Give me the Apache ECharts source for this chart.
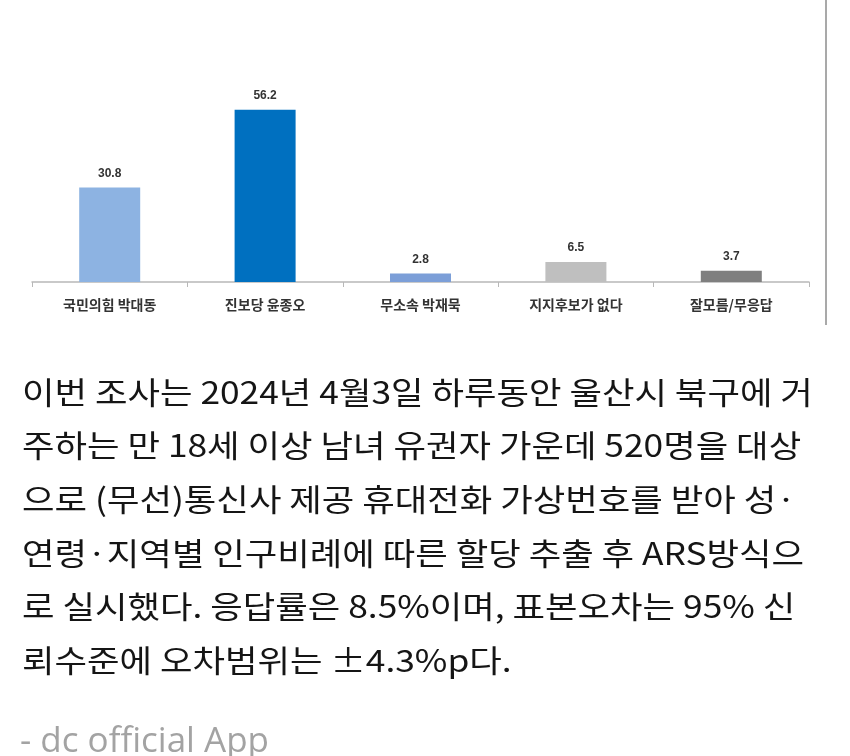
<!DOCTYPE html>
<html>
<head>
<meta charset="utf-8">
<script src="https://cdn.jsdelivr.net/npm/echarts@6/dist/echarts.min.js"></script>
<style>
  html, body { margin: 0; padding: 0; background: #fff; }
  #chart { width: 850px; height: 756px; }
</style>
</head>
<body>
<div id="chart"></div>
<script>
var categories = ['국민의힘 박대동', '진보당 윤종오', '무소속 박재묵', '지지후보가 없다', '잘모름/무응답'];
var values = [30.8, 56.2, 2.8, 6.5, 3.7];
var barColors = ['#8db3e2', '#0070c0', '#7c9fd8', '#bfbfbf', '#7f7f7f'];

var noteLines = [
    '이번 조사는 2024년 4월3일 하루동안 울산시 북구에 거',
    '주하는 만 18세 이상 남녀 유권자 가운데 520명을 대상',
    '으로 (무선)통신사 제공 휴대전화 가상번호를 받아 성·',
    '연령·지역별 인구비례에 따른 할당 추출 후 ARS방식으',
    '로 실시했다. 응답률은 8.5%이며, 표본오차는 95% 신',
    '뢰수준에 오차범위는 ±4.3%p다.'
];
var footer = '- dc official App';

var chart = echarts.init(document.getElementById('chart'));

var graphics = [{
    type: 'line',
    shape: { x1: 826, y1: 0, x2: 826, y2: 325 },
    style: { stroke: '#8c8c8c', lineWidth: 1.5 }
}];

// the app font is wider than Noto, so stretch each line a little
noteLines.forEach(function (line, i) {
    graphics.push({
        type: 'text',
        x: 22,
        y: 392 + i * 53.6,
        scaleX: 1.14,
        style: {
            text: line,
            fill: '#151515',
            font: '31px "Noto Sans CJK KR", sans-serif',
            verticalAlign: 'middle'
        }
    });
});

graphics.push({
    type: 'text',
    x: 20,
    y: 760,
    style: {
        text: footer,
        fill: '#a3a3a3',
        font: '35px "Open Sans", sans-serif',
        verticalAlign: 'bottom'
    }
});

chart.setOption({
    animation: false,
    backgroundColor: '#ffffff',
    grid: {
        left: 32,
        right: 41,
        top: 98,
        bottom: 474
    },
    xAxis: {
        type: 'category',
        data: categories,
        axisLine: {
            show: true,
            lineStyle: { color: '#b8b8b8', width: 1.5 }
        },
        axisTick: {
            show: true,
            length: 5,
            lineStyle: { color: '#b8b8b8' }
        },
        axisLabel: {
            margin: 16,
            color: '#333333',
            fontSize: 14,
            fontWeight: 'bold',
            fontFamily: '"Noto Sans CJK KR", sans-serif'
        }
    },
    yAxis: {
        type: 'value',
        min: 0,
        max: 60,
        show: false,
        splitLine: { show: false }
    },
    series: [{
        type: 'bar',
        barWidth: 61,
        data: values.map(function (v, i) {
            return { value: v, itemStyle: { color: barColors[i] } };
        }),
        label: {
            show: true,
            position: 'top',
            distance: 8,
            color: '#333333',
            fontSize: 12,
            fontWeight: 'bold',
            fontFamily: '"Liberation Sans Narrow", "Liberation Sans", sans-serif'
        }
    }],
    graphic: graphics
});
</script>
</body>
</html>
